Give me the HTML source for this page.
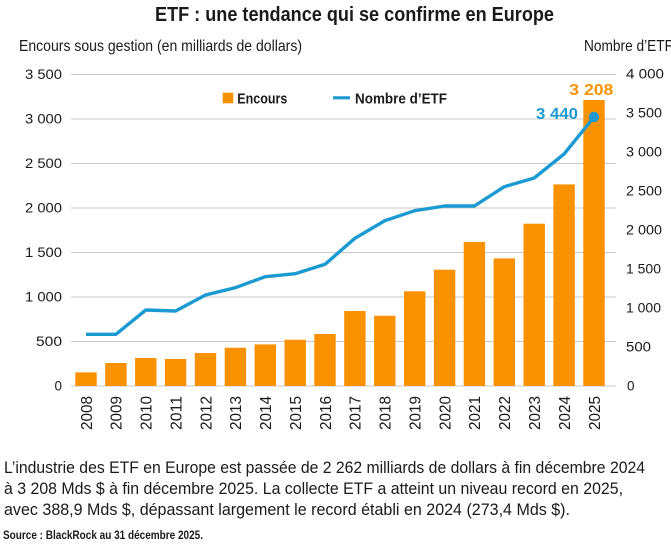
<!DOCTYPE html>
<html>
<head>
<meta charset="utf-8">
<style>
html,body{margin:0;padding:0;background:#fff;}
svg{display:block;}
text{font-family:"Liberation Sans",sans-serif;fill:#1a1a1a;}
</style>
</head>
<body>
<svg width="671" height="544" viewBox="0 0 671 544" xmlns="http://www.w3.org/2000/svg">
  <!-- Title -->
  <text x="155" y="21" font-size="20" font-weight="bold" textLength="399" lengthAdjust="spacingAndGlyphs">ETF : une tendance qui se confirme en Europe</text>
  <!-- Axis titles -->
  <text x="19" y="51" font-size="16" textLength="283" lengthAdjust="spacingAndGlyphs">Encours sous gestion (en milliards de dollars)</text>
  <text x="584" y="51" font-size="16" textLength="89" lengthAdjust="spacingAndGlyphs">Nombre d’ETF</text>

  <!-- Gridlines -->
  <g stroke="#c9c9c9" stroke-width="1">
    <line x1="71" y1="74.5" x2="616" y2="74.5"/>
    <line x1="71" y1="119" x2="616" y2="119"/>
    <line x1="71" y1="163.5" x2="616" y2="163.5"/>
    <line x1="71" y1="208" x2="616" y2="208"/>
    <line x1="71" y1="252.5" x2="616" y2="252.5"/>
    <line x1="71" y1="297" x2="616" y2="297"/>
    <line x1="71" y1="341.5" x2="616" y2="341.5"/>
    <line x1="71" y1="386" x2="616" y2="386"/>
  </g>

  <!-- Left axis labels -->
  <g font-size="13.5" text-anchor="end">
    <text x="62" y="79" textLength="37" lengthAdjust="spacingAndGlyphs">3 500</text>
    <text x="62" y="123.5" textLength="37" lengthAdjust="spacingAndGlyphs">3 000</text>
    <text x="62" y="168" textLength="37" lengthAdjust="spacingAndGlyphs">2 500</text>
    <text x="62" y="212.5" textLength="37" lengthAdjust="spacingAndGlyphs">2 000</text>
    <text x="62" y="257" textLength="37" lengthAdjust="spacingAndGlyphs">1 500</text>
    <text x="62" y="301.5" textLength="37" lengthAdjust="spacingAndGlyphs">1 000</text>
    <text x="62" y="346" textLength="26" lengthAdjust="spacingAndGlyphs">500</text>
    <text x="62" y="390.5">0</text>
  </g>
  <!-- Right axis labels (own scale: 39px per 500) -->
  <g font-size="13.5">
    <text x="626" y="78.5" textLength="38" lengthAdjust="spacingAndGlyphs">4 000</text>
    <text x="626" y="117.5" textLength="36" lengthAdjust="spacingAndGlyphs">3 500</text>
    <text x="626" y="156.5" textLength="36" lengthAdjust="spacingAndGlyphs">3 000</text>
    <text x="626" y="195.5" textLength="36" lengthAdjust="spacingAndGlyphs">2 500</text>
    <text x="626" y="234.5" textLength="36" lengthAdjust="spacingAndGlyphs">2 000</text>
    <text x="626" y="273.5" textLength="35" lengthAdjust="spacingAndGlyphs">1 500</text>
    <text x="626" y="312.5" textLength="35" lengthAdjust="spacingAndGlyphs">1 000</text>
    <text x="626" y="351.5" textLength="25" lengthAdjust="spacingAndGlyphs">500</text>
    <text x="627" y="390.5">0</text>
  </g>

  <!-- Bars -->
  <g fill="#fa9200">
    <rect x="75.3" y="372.4" width="21.4" height="13.6"/>
    <rect x="105.2" y="363.0" width="21.4" height="23.0"/>
    <rect x="135.1" y="358.0" width="21.4" height="28.0"/>
    <rect x="164.9" y="359.0" width="21.4" height="27.0"/>
    <rect x="194.8" y="353.0" width="21.4" height="33.0"/>
    <rect x="224.7" y="347.7" width="21.4" height="38.3"/>
    <rect x="254.6" y="344.4" width="21.4" height="41.6"/>
    <rect x="284.5" y="339.7" width="21.4" height="46.3"/>
    <rect x="314.3" y="334.0" width="21.4" height="52.0"/>
    <rect x="344.2" y="311.0" width="21.4" height="75.0"/>
    <rect x="374.1" y="315.7" width="21.4" height="70.3"/>
    <rect x="404.0" y="291.3" width="21.4" height="94.7"/>
    <rect x="433.9" y="269.7" width="21.4" height="116.3"/>
    <rect x="463.7" y="242.0" width="21.4" height="144.0"/>
    <rect x="493.6" y="258.4" width="21.4" height="127.6"/>
    <rect x="523.5" y="223.7" width="21.4" height="162.3"/>
    <rect x="553.4" y="184.4" width="21.4" height="201.6"/>
    <rect x="583.3" y="100.0" width="21.4" height="286.0"/>
  </g>

  <!-- Line -->
  <polyline fill="none" stroke="#1b9ad2" stroke-width="3.4" stroke-linejoin="round" stroke-linecap="butt"
    points="86,334.3 115.9,334.3 145.8,310 175.6,311 205.5,295 235.4,287.7 265.3,276.7 295.2,273.7 325,264.3 354.9,238.3 384.8,220.7 414.7,210.7 444.6,206 474.4,206 504.3,186.7 534.2,178 564.1,154 594,117"/>
  <circle cx="594" cy="117" r="5.2" fill="#1b9ad2"/>

  <!-- Value labels -->
  <text x="569.3" y="95" font-size="16" font-weight="bold" style="fill:#fa9200" textLength="44" lengthAdjust="spacingAndGlyphs">3 208</text>
  <text x="536" y="119" font-size="16" font-weight="bold" style="fill:#1b9ad2" textLength="42" lengthAdjust="spacingAndGlyphs">3 440</text>

  <!-- Legend -->
  <rect x="222.7" y="92.7" width="10.6" height="10.6" fill="#fa9200"/>
  <text x="237.3" y="103.3" font-size="15" font-weight="bold" textLength="50" lengthAdjust="spacingAndGlyphs">Encours</text>
  <line x1="333" y1="97.8" x2="350" y2="97.8" stroke="#1b9ad2" stroke-width="3.2"/>
  <text x="355" y="103.3" font-size="15" font-weight="bold" textLength="92" lengthAdjust="spacingAndGlyphs">Nombre d’ETF</text>

  <!-- X labels -->
  <g font-size="16" text-anchor="end">
    <text transform="translate(91.8,396) rotate(-90)" textLength="34" lengthAdjust="spacingAndGlyphs">2008</text>
    <text transform="translate(121.7,396) rotate(-90)" textLength="34" lengthAdjust="spacingAndGlyphs">2009</text>
    <text transform="translate(151.6,396) rotate(-90)" textLength="34" lengthAdjust="spacingAndGlyphs">2010</text>
    <text transform="translate(181.4,396) rotate(-90)" textLength="34" lengthAdjust="spacingAndGlyphs">2011</text>
    <text transform="translate(211.3,396) rotate(-90)" textLength="34" lengthAdjust="spacingAndGlyphs">2012</text>
    <text transform="translate(241.2,396) rotate(-90)" textLength="34" lengthAdjust="spacingAndGlyphs">2013</text>
    <text transform="translate(271.1,396) rotate(-90)" textLength="34" lengthAdjust="spacingAndGlyphs">2014</text>
    <text transform="translate(301.0,396) rotate(-90)" textLength="34" lengthAdjust="spacingAndGlyphs">2015</text>
    <text transform="translate(330.8,396) rotate(-90)" textLength="34" lengthAdjust="spacingAndGlyphs">2016</text>
    <text transform="translate(360.7,396) rotate(-90)" textLength="34" lengthAdjust="spacingAndGlyphs">2017</text>
    <text transform="translate(390.6,396) rotate(-90)" textLength="34" lengthAdjust="spacingAndGlyphs">2018</text>
    <text transform="translate(420.5,396) rotate(-90)" textLength="34" lengthAdjust="spacingAndGlyphs">2019</text>
    <text transform="translate(450.4,396) rotate(-90)" textLength="34" lengthAdjust="spacingAndGlyphs">2020</text>
    <text transform="translate(480.2,396) rotate(-90)" textLength="34" lengthAdjust="spacingAndGlyphs">2021</text>
    <text transform="translate(510.1,396) rotate(-90)" textLength="34" lengthAdjust="spacingAndGlyphs">2022</text>
    <text transform="translate(540.0,396) rotate(-90)" textLength="34" lengthAdjust="spacingAndGlyphs">2023</text>
    <text transform="translate(569.9,396) rotate(-90)" textLength="34" lengthAdjust="spacingAndGlyphs">2024</text>
    <text transform="translate(599.8,396) rotate(-90)" textLength="34" lengthAdjust="spacingAndGlyphs">2025</text>
  </g>

  <!-- Bottom text -->
  <g font-size="17">
    <text x="4" y="473" textLength="641" lengthAdjust="spacingAndGlyphs">L’industrie des ETF en Europe est passée de 2 262 milliards de dollars à fin décembre 2024</text>
    <text x="4" y="494" textLength="619" lengthAdjust="spacingAndGlyphs">à 3 208 Mds $ à fin décembre 2025. La collecte ETF a atteint un niveau record en 2025,</text>
    <text x="4" y="515" textLength="566" lengthAdjust="spacingAndGlyphs">avec 388,9 Mds $, dépassant largement le record établi en 2024 (273,4 Mds $).</text>
  </g>
  <text x="3" y="539" font-size="12" font-weight="bold" textLength="200" lengthAdjust="spacingAndGlyphs">Source : BlackRock au 31 décembre 2025.</text>
</svg>
</body>
</html>
